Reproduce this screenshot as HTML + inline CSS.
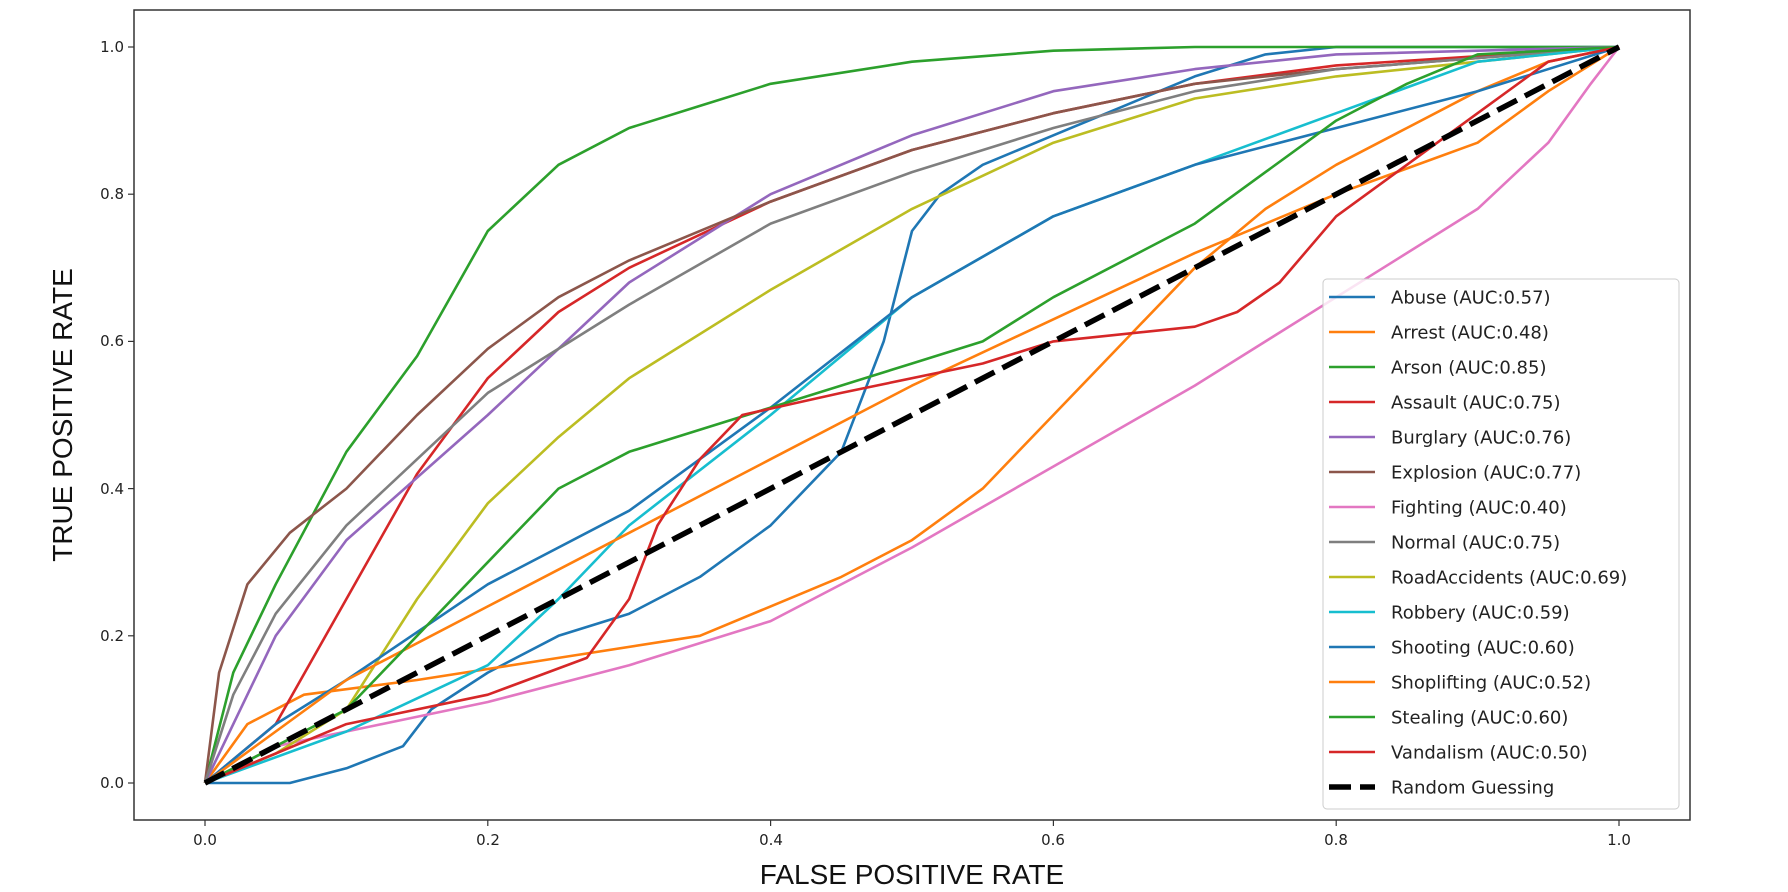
<!DOCTYPE html>
<html><head><meta charset="utf-8"><style>
body{margin:0;background:#fff}
svg{display:block;font-family:"DejaVu Sans","Liberation Sans",sans-serif}
</style></head><body>
<svg id="s" width="1788" height="892" xmlns="http://www.w3.org/2000/svg">
<rect width="1788" height="892" fill="#fff"/>
<g id="curves"></g>
<rect x="134" y="10" width="1556" height="810" fill="none" stroke="#333" stroke-width="1.5"/>
<g font-size="15" fill="#222" text-anchor="end">
<text x="124" y="788">0.0</text><text x="124" y="641">0.2</text><text x="124" y="494">0.4</text><text x="124" y="346">0.6</text><text x="124" y="199">0.8</text><text x="124" y="52">1.0</text>
</g>
<g font-size="15" fill="#222" text-anchor="middle">
<text x="205" y="845">0.0</text><text x="488" y="845">0.2</text><text x="771" y="845">0.4</text><text x="1053" y="845">0.6</text><text x="1336" y="845">0.8</text><text x="1619" y="845">1.0</text>
</g>
<g stroke="#333" stroke-width="1.2" id="ticks"></g>
<text x="912" y="884" font-size="28" text-anchor="middle" fill="#111" font-family="Liberation Sans, sans-serif">FALSE POSITIVE RATE</text>
<text transform="translate(72,415) rotate(-90)" font-size="28" text-anchor="middle" fill="#111" font-family="Liberation Sans, sans-serif">TRUE POSITIVE RATE</text>
<rect x="1323" y="279" width="356" height="530" rx="4" fill="#fff" fill-opacity="0.8" stroke="#ccc" stroke-width="1"/>
<g id="legend" font-size="18" fill="#222"></g>
</svg>
<script>
const X=x=>205+1414*x, Y=y=>783-736*y;
const C=[
["Abuse (AUC:0.57)","#1f77b4",[[0,0],[.06,0],[.1,.02],[.14,.05],[.16,.1],[.2,.15],[.25,.2],[.3,.23],[.35,.28],[.4,.35],[.45,.45],[.48,.6],[.5,.75],[.52,.8],[.55,.84],[.6,.88],[.65,.92],[.7,.96],[.75,.99],[.8,1],[1,1]]],
["Arrest (AUC:0.48)","#ff7f0e",[[0,0],[.03,.08],[.07,.12],[.15,.14],[.25,.17],[.35,.2],[.4,.24],[.45,.28],[.5,.33],[.55,.4],[.6,.5],[.65,.6],[.7,.7],[.75,.78],[.8,.84],[.85,.89],[.9,.94],[.95,.98],[1,1]]],
["Arson (AUC:0.85)","#2ca02c",[[0,0],[.02,.15],[.05,.27],[.1,.45],[.15,.58],[.2,.75],[.25,.84],[.3,.89],[.35,.92],[.4,.95],[.5,.98],[.6,.995],[.7,1],[1,1]]],
["Assault (AUC:0.75)","#d62728",[[0,0],[.05,.08],[.1,.25],[.15,.42],[.2,.55],[.25,.64],[.3,.7],[.4,.79],[.5,.86],[.6,.91],[.7,.95],[.8,.975],[1,1]]],
["Burglary (AUC:0.76)","#9467bd",[[0,0],[.05,.2],[.1,.33],[.2,.5],[.3,.68],[.4,.8],[.5,.88],[.6,.94],[.7,.97],[.8,.99],[1,1]]],
["Explosion (AUC:0.77)","#8c564b",[[0,0],[.01,.15],[.03,.27],[.06,.34],[.1,.4],[.15,.5],[.2,.59],[.25,.66],[.3,.71],[.4,.79],[.5,.86],[.6,.91],[.7,.95],[.8,.97],[1,1]]],
["Fighting (AUC:0.40)","#e377c2",[[0,0],[.05,.05],[.1,.07],[.2,.11],[.3,.16],[.4,.22],[.5,.32],[.6,.43],[.7,.54],[.8,.66],[.9,.78],[.95,.87],[.98,.95],[1,1]]],
["Normal (AUC:0.75)","#7f7f7f",[[0,0],[.02,.12],[.05,.23],[.1,.35],[.15,.44],[.2,.53],[.3,.65],[.4,.76],[.5,.83],[.6,.89],[.7,.94],[.8,.97],[1,1]]],
["RoadAccidents (AUC:0.69)","#bcbd22",[[0,0],[.05,.04],[.1,.1],[.15,.25],[.2,.38],[.25,.47],[.3,.55],[.4,.67],[.5,.78],[.6,.87],[.7,.93],[.8,.96],[.9,.98],[1,1]]],
["Robbery (AUC:0.59)","#17becf",[[0,0],[.1,.07],[.2,.16],[.25,.25],[.3,.35],[.4,.5],[.5,.66],[.6,.77],[.7,.84],[.8,.91],[.9,.98],[1,1]]],
["Shooting (AUC:0.60)","#1f77b4",[[0,0],[.05,.08],[.1,.14],[.2,.27],[.3,.37],[.4,.51],[.5,.66],[.6,.77],[.7,.84],[.8,.89],[.9,.94],[1,1]]],
["Shoplifting (AUC:0.52)","#ff7f0e",[[0,0],[.1,.14],[.2,.24],[.3,.34],[.4,.44],[.5,.54],[.6,.63],[.7,.72],[.8,.8],[.9,.87],[.95,.94],[1,1]]],
["Stealing (AUC:0.60)","#2ca02c",[[0,0],[.05,.05],[.1,.1],[.15,.2],[.2,.3],[.25,.4],[.3,.45],[.4,.51],[.5,.57],[.55,.6],[.6,.66],[.7,.76],[.75,.83],[.8,.9],[.85,.95],[.9,.99],[1,1]]],
["Vandalism (AUC:0.50)","#d62728",[[0,0],[.1,.08],[.2,.12],[.27,.17],[.3,.25],[.32,.35],[.35,.44],[.38,.5],[.45,.53],[.55,.57],[.6,.6],[.7,.62],[.73,.64],[.76,.68],[.8,.77],[.85,.84],[.9,.91],[.95,.98],[1,1]]]
];
const NS="http://www.w3.org/2000/svg";
const g=document.getElementById("curves"),lg=document.getElementById("legend"),tk=document.getElementById("ticks");
function el(p,t,a){const e=document.createElementNS(NS,t);for(const k in a)e.setAttribute(k,a[k]);p.appendChild(e);return e;}
C.forEach((c,i)=>{
 el(g,"polyline",{points:c[2].map(p=>X(p[0]).toFixed(1)+","+Y(p[1]).toFixed(1)).join(" "),fill:"none",stroke:c[1],"stroke-width":2.6,"stroke-linejoin":"round"});
 const yy=297+i*35;
 el(lg,"line",{x1:1329,x2:1375,y1:yy,y2:yy,stroke:c[1],"stroke-width":2.6});
 el(lg,"text",{x:1391,y:yy+6.5}).textContent=c[0];
});
el(g,"line",{x1:X(0),y1:Y(0),x2:X(1),y2:Y(1),stroke:"#000","stroke-width":5.5,"stroke-dasharray":"22 9"});
const ry=297+14*35;
el(lg,"line",{x1:1329,x2:1375,y1:ry,y2:ry,stroke:"#000","stroke-width":5.5,"stroke-dasharray":"22 9"});
el(lg,"text",{x:1391,y:ry+6.5}).textContent="Random Guessing";
[0,.2,.4,.6,.8,1].forEach(v=>{el(tk,"line",{x1:X(v),x2:X(v),y1:820,y2:826});el(tk,"line",{x1:128,x2:134,y1:Y(v),y2:Y(v)});});
</script>
</body></html>
